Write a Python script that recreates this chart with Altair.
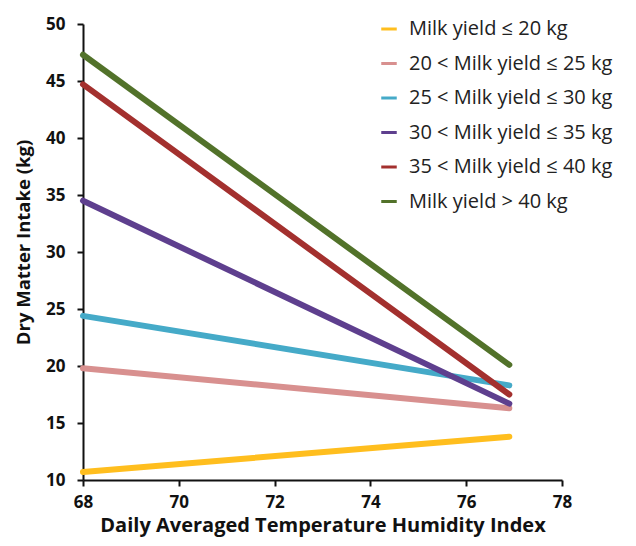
import altair as alt
import pandas as pd

groups = [
    "Milk yield ≤ 20 kg",
    "20 < Milk yield ≤ 25 kg",
    "25 < Milk yield ≤ 30 kg",
    "30 < Milk yield ≤ 35 kg",
    "35 < Milk yield ≤ 40 kg",
    "Milk yield > 40 kg",
]
colors = ["#FFBE1E", "#D8908F", "#45AAC8", "#5E3F8E", "#A3302E", "#52722A"]
thi = [68.0, 76.9]
dmi_start = [10.7, 19.8, 24.4, 34.5, 44.7, 47.3]
dmi_end = [13.8, 16.3, 18.3, 16.7, 17.5, 20.1]

rows = []
for i, g in enumerate(groups):
    rows.append({"group": g, "order": i, "thi": thi[0], "dmi": dmi_start[i]})
    rows.append({"group": g, "order": i, "thi": thi[1], "dmi": dmi_end[i]})
df = pd.DataFrame(rows)

FONT = "Open Sans"

chart = alt.Chart(df).mark_line(strokeWidth=6, strokeCap="round").encode(
    x=alt.X("thi:Q", scale=alt.Scale(domain=[68, 78], nice=False, zero=False),
            axis=alt.Axis(title="Daily Averaged Temperature Humidity Index",
                          values=[68, 70, 72, 74, 76, 78], titleY=55, titleBaseline="bottom",
                          titleFontSize=20, labelPadding=8)),
    y=alt.Y("dmi:Q", scale=alt.Scale(domain=[10, 50], nice=False, zero=False),
            axis=alt.Axis(title="Dry Matter Intake (kg)",
                          values=[10, 15, 20, 25, 30, 35, 40, 45, 50],
                          titleX=-60, titleY=218, titleAlign="center", titleBaseline="middle",
                          titleFontSize=18.5, labelPadding=12)),
    color=alt.Color("group:N", scale=alt.Scale(domain=groups, range=colors),
                    legend=alt.Legend(title=None, orient="none", legendX=296, legendY=-5,
                                      symbolType="stroke", symbolSize=240, symbolStrokeWidth=3,
                                      labelFontSize=20, labelFont=FONT, labelColor="#222222",
                                      labelLimit=400, rowPadding=14.5, labelOffset=10)),
    detail="group:N",
    order="thi:Q",
).properties(
    width=479, height=456,
    padding={"left": 75, "top": 16, "right": 66, "bottom": 58},
    autosize=alt.AutoSizeParams(type="none"),
).configure_view(stroke=None).configure_axis(
    grid=False, domainColor="#111111", domainWidth=2, tickColor="#111111", tickWidth=2,
    tickSize=6, labelFont=FONT, labelFontSize=17, labelFontWeight="bold", labelColor="#111111",
    titleFont=FONT, titleFontWeight="bold", titleColor="#111111",
    labelFlush=False,
)

chart.save("out.html", embed_options={"renderer": "svg", "actions": False})
